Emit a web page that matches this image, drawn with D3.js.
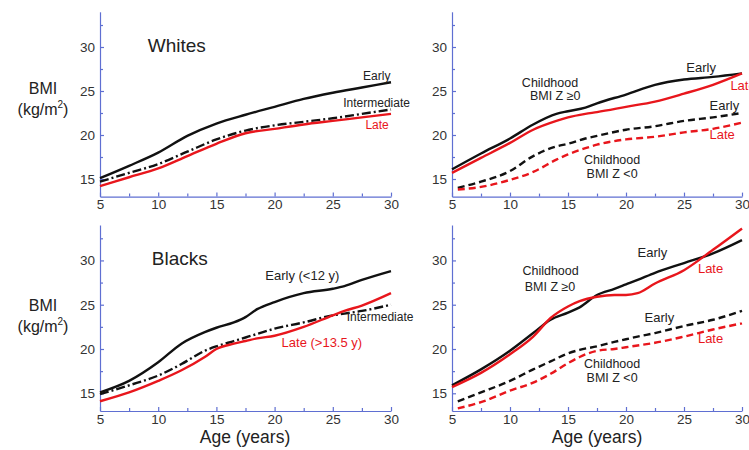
<!DOCTYPE html>
<html lang="en">
<head>
<meta charset="UTF-8">
<title>BMI by age and menarche timing</title>
<script src="https://d3js.org/d3.v7.min.js"></script>
<style>
  body { margin: 0; background: #fff; font-family: 'Liberation Sans', Arial, sans-serif; }
  .axis path, .axis line { stroke: #5f6fd2; stroke-width: 1.2; }
  .axis text { font-size: 13.5px; fill: #333; font-family: 'Liberation Sans', Arial, sans-serif; }
  .lbl { font-family: 'Liberation Sans', Arial, sans-serif; }
</style>
</head>
<body>
<script>
  // Whites, by timing of menarche
  const agesWhites = [5, 7.5, 10, 12.5, 15, 17.5, 20, 22.5, 25, 27.5, 30];
  const whitesEarly = [15.1, 16.5, 18.0, 19.9, 21.3, 22.3, 23.2, 24.1, 24.8, 25.4, 26.0];
  const whitesInter = [14.7, 15.7, 16.7, 18.1, 19.5, 20.5, 21.1, 21.5, 21.9, 22.4, 22.9];
  const whitesLate  = [14.2, 15.2, 16.2, 17.6, 19.0, 20.2, 20.7, 21.2, 21.6, 22.0, 22.4];

  // Whites, split by childhood BMI Z
  const agesWz    = [5, 7.5, 10, 12, 14, 15, 16.5, 17.5, 20, 22.5, 25, 27.5, 30];
  const agesWzNeg = [5.5, 7.5, 10, 12, 14, 15, 16.5, 17.5, 20, 22.5, 25, 27.5, 30];
  const wzPosEarly = [16.1, 17.9, 19.6, 21.2, 22.4, 22.7, 23.1, 23.6, 24.6, 25.7, 26.3, 26.6, 27.0];
  const wzPosLate  = [15.7, 17.4, 19.1, 20.6, 21.6, 22.0, 22.4, 22.6, 23.2, 23.8, 24.7, 25.7, 27.0];
  const wzNegEarly = [14.0, 14.7, 15.9, 17.6, 18.7, 19.0, 19.6, 19.9, 20.6, 21.0, 21.6, 22.0, 22.5];
  const wzNegLate  = [13.8, 14.1, 14.9, 15.8, 17.2, 17.8, 18.5, 18.9, 19.5, 19.8, 20.3, 20.7, 21.4];

  // Blacks, by timing of menarche
  const agesBlacks = [5, 7.5, 10, 12, 14, 15, 16.5, 17.5, 18.5, 20, 22.5, 25, 26, 27.5, 30];
  const blacksEarly = [15.1, 16.4, 18.5, 20.6, 21.9, 22.4, 23.0, 23.6, 24.5, 25.3, 26.3, 26.8, 27.1, 27.8, 28.8];
  const blacksInter = [14.9, 15.9, 17.0, 18.3, 19.8, 20.3, 20.9, 21.3, 21.7, 22.3, 23.0, 23.8, 24.0, 24.3, 25.0];
  const blacksLate  = [14.1, 15.1, 16.4, 17.6, 19.1, 20.0, 20.6, 20.9, 21.2, 21.5, 22.5, 23.8, 24.3, 24.9, 26.3];

  // Blacks, split by childhood BMI Z
  const agesBz    = [5, 7.5, 10, 12, 13.5, 15, 16, 17.5, 19, 20, 21, 22.5, 25, 27.5, 30];
  const agesBzNeg = [5.5, 7.5, 10, 12, 13.5, 15, 16, 17.5, 19, 20, 21, 22.5, 25, 27.5, 30];
  const bzPosEarly = [15.9, 17.7, 19.8, 21.8, 23.3, 24.1, 24.7, 26.1, 26.8, 27.3, 27.8, 28.6, 29.7, 30.8, 32.3];
  const bzPosLate  = [15.7, 17.3, 19.4, 21.4, 23.5, 24.8, 25.4, 25.9, 26.1, 26.1, 26.3, 27.4, 28.9, 31.2, 33.6];
  const bzNegEarly = [14.1, 15.1, 16.4, 17.7, 18.6, 19.5, 19.9, 20.3, 20.8, 21.1, 21.4, 21.8, 22.6, 23.3, 24.3];
  const bzNegLate  = [13.3, 14.0, 15.3, 16.2, 17.2, 18.4, 19.1, 19.8, 20.0, 20.2, 20.4, 20.7, 21.4, 22.2, 22.9];

  const xTicks = [5, 10, 15, 20, 25, 30];
  const xMinor = [7.5, 12.5, 17.5, 22.5, 27.5];
  const yTicks = [15, 20, 25, 30];
  const yMinor = [17.5, 22.5, 27.5, 32.5];

  const BLACK = "#111", RED = "#e8161c";
  const DASHDOT = "9,3,2,3", DASH = "7,4";

  const width = 749, height = 450;
  const svg = d3.select("body").append("svg")
      .attr("width", width)
      .attr("height", height);

  const panels = [
    { x: [100, 391], y: [196.6, 11.8],
      series: [
        { ages: agesWhites, v: whitesEarly, color: BLACK },
        { ages: agesWhites, v: whitesInter, color: BLACK, dash: DASHDOT },
        { ages: agesWhites, v: whitesLate, color: RED }
      ],
      labels: [
        { t: "Whites", a: 9.1, b: 29.45, size: 19 },
        { t: "Early", a: 27.6, b: 26.25, size: 12 },
        { t: "Intermediate", a: 25.9, b: 23.2, size: 12 },
        { t: "Late", a: 27.8, b: 20.65, size: 12, color: RED }
      ] },
    { x: [452, 742], y: [196.6, 11.8],
      series: [
        { ages: agesWz, v: wzPosEarly, color: BLACK },
        { ages: agesWz, v: wzPosLate, color: RED },
        { ages: agesWzNeg, v: wzNegEarly, color: BLACK, dash: DASH },
        { ages: agesWzNeg, v: wzNegLate, color: RED, dash: DASH }
      ],
      labels: [
        { t: "Childhood", a: 13.45, b: 25.5, size: 12.5, anchor: "middle" },
        { t: "BMI Z \u22650", a: 13.9, b: 23.95, size: 12.5, anchor: "middle" },
        { t: "Early", a: 25.2, b: 27.2, size: 13 },
        { t: "Late", a: 29.0, b: 25.1, size: 13, color: RED },
        { t: "Early", a: 27.2, b: 22.85, size: 13 },
        { t: "Late", a: 27.2, b: 19.5, size: 13, color: RED },
        { t: "Childhood", a: 18.8, b: 16.65, size: 12.5, anchor: "middle" },
        { t: "BMI Z <0", a: 18.8, b: 15.15, size: 12.5, anchor: "middle" }
      ] },
    { x: [100, 391], y: [411, 225],
      series: [
        { ages: agesBlacks, v: blacksEarly, color: BLACK },
        { ages: agesBlacks, v: blacksInter, color: BLACK, dash: DASHDOT },
        { ages: agesBlacks, v: blacksLate, color: RED }
      ],
      labels: [
        { t: "Blacks", a: 9.45, b: 29.5, size: 19 },
        { t: "Early (<12 y)", a: 19.2, b: 27.8, size: 13 },
        { t: "Intermediate", a: 26.2, b: 23.15, size: 12 },
        { t: "Late (>13.5 y)", a: 20.6, b: 20.2, size: 13, color: RED }
      ] },
    { x: [452, 742], y: [411, 225],
      series: [
        { ages: agesBz, v: bzPosEarly, color: BLACK },
        { ages: agesBz, v: bzPosLate, color: RED },
        { ages: agesBzNeg, v: bzNegEarly, color: BLACK, dash: DASH },
        { ages: agesBzNeg, v: bzNegLate, color: RED, dash: DASH }
      ],
      labels: [
        { t: "Early", a: 21.0, b: 30.4, size: 13 },
        { t: "Late", a: 26.2, b: 28.6, size: 13, color: RED },
        { t: "Childhood", a: 13.5, b: 28.3, size: 12.5, anchor: "middle" },
        { t: "BMI Z \u22650", a: 13.45, b: 26.6, size: 12.5, anchor: "middle" },
        { t: "Early", a: 21.6, b: 23.1, size: 13 },
        { t: "Late", a: 26.2, b: 20.7, size: 13, color: RED },
        { t: "Childhood", a: 18.8, b: 17.85, size: 12.5, anchor: "middle" },
        { t: "BMI Z <0", a: 18.8, b: 16.25, size: 12.5, anchor: "middle" }
      ] }
  ];

  panels.forEach(p => {
    const x = d3.scaleLinear().domain([5, 30]).range(p.x);
    const y = d3.scaleLinear().domain([13, 34]).range(p.y);
    const g = svg.append("g");

    // axes: ticks point inward, labels outside
    g.append("g").attr("class", "axis")
        .attr("transform", `translate(0,${p.y[0]})`)
        .call(d3.axisBottom(x).tickValues(xTicks).tickSizeInner(-4).tickSizeOuter(0).tickPadding(3));
    g.append("g").attr("class", "axis")
        .attr("transform", `translate(0,${p.y[0]})`)
        .call(d3.axisBottom(x).tickValues(xMinor).tickFormat("").tickSizeInner(-3).tickSizeOuter(0))
        .select(".domain").remove();
    g.append("g").attr("class", "axis")
        .attr("transform", `translate(${p.x[0]},0)`)
        .call(d3.axisLeft(y).tickValues(yTicks).tickSizeInner(-4).tickSizeOuter(0).tickPadding(5));
    g.append("g").attr("class", "axis")
        .attr("transform", `translate(${p.x[0]},0)`)
        .call(d3.axisLeft(y).tickValues(yMinor).tickFormat("").tickSizeInner(-3).tickSizeOuter(0))
        .select(".domain").remove();

    const line = d3.line()
        .x(d => x(d[0]))
        .y(d => y(d[1]))
        .curve(d3.curveMonotoneX);

    p.series.forEach(s => {
      g.append("path")
        .datum(s.ages.map((a, i) => [a, s.v[i]]))
        .attr("d", line)
        .attr("fill", "none")
        .attr("stroke", s.color)
        .attr("stroke-width", 2.4)
        .attr("stroke-dasharray", s.dash || null);
    });

    p.labels.forEach(l => {
      g.append("text").attr("class", "lbl")
        .attr("x", x(l.a))
        .attr("y", y(l.b))
        .attr("text-anchor", l.anchor || "start")
        .attr("font-size", l.size)
        .attr("fill", l.color || "#222")
        .text(l.t);
    });
  });

  // y axis titles (left panels)
  [[94, 115], [311, 332]].forEach(([b1, b2]) => {
    svg.append("text").attr("class", "lbl")
      .attr("x", 43).attr("y", b1)
      .attr("text-anchor", "middle").attr("font-size", 16).attr("fill", "#222")
      .text("BMI");
    const t = svg.append("text").attr("class", "lbl")
      .attr("x", 43).attr("y", b2)
      .attr("text-anchor", "middle").attr("font-size", 16).attr("fill", "#222");
    t.append("tspan").text("(kg/m");
    t.append("tspan").attr("font-size", 10).attr("dy", -7).text("2");
    t.append("tspan").attr("dy", 7).text(")");
  });

  // x axis titles (bottom panels)
  [245, 597].forEach(cx => {
    svg.append("text").attr("class", "lbl")
      .attr("x", cx).attr("y", 443)
      .attr("text-anchor", "middle").attr("font-size", 17.5).attr("fill", "#222")
      .text("Age (years)");
  });
</script>
</body>
</html>
